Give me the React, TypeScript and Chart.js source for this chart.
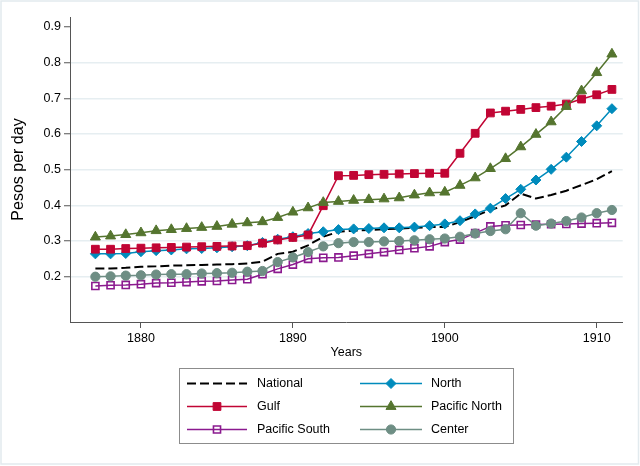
import { useEffect, useRef } from "react";
import { Chart, registerables } from "chart.js";

Chart.register(...registerables);

const years = [
  1877, 1878, 1879, 1880, 1881, 1882, 1883, 1884, 1885, 1886, 1887, 1888,
  1889, 1890, 1891, 1892, 1893, 1894, 1895, 1896, 1897, 1898, 1899, 1900,
  1901, 1902, 1903, 1904, 1905, 1906, 1907, 1908, 1909, 1910, 1911,
];

const national = [
  0.223, 0.223, 0.225, 0.228, 0.229, 0.231, 0.232, 0.233, 0.234, 0.235, 0.237, 0.242,
  0.264, 0.270, 0.288, 0.312, 0.326, 0.329, 0.331, 0.333, 0.335, 0.337, 0.339, 0.339,
  0.353, 0.370, 0.387, 0.400, 0.433, 0.419, 0.429, 0.441, 0.457, 0.473, 0.496,
];
const north = [
  0.264, 0.264, 0.265, 0.270, 0.273, 0.275, 0.278, 0.279, 0.281, 0.284, 0.287, 0.296,
  0.305, 0.312, 0.321, 0.326, 0.332, 0.334, 0.335, 0.337, 0.337, 0.339, 0.343, 0.348,
  0.357, 0.376, 0.392, 0.419, 0.445, 0.471, 0.501, 0.535, 0.579, 0.623, 0.671,
];
const gulf = [
  0.277, 0.277, 0.279, 0.280, 0.281, 0.282, 0.283, 0.284, 0.285, 0.286, 0.287, 0.294,
  0.303, 0.310, 0.317, 0.399, 0.483, 0.484, 0.486, 0.487, 0.488, 0.489, 0.490, 0.490,
  0.546, 0.602, 0.659, 0.664, 0.669, 0.674, 0.678, 0.684, 0.698, 0.710, 0.725,
];
const pacificNorth = [
  0.311, 0.314, 0.318, 0.323, 0.329, 0.332, 0.335, 0.338, 0.341, 0.347, 0.351, 0.354,
  0.366, 0.381, 0.393, 0.408, 0.411, 0.414, 0.416, 0.418, 0.421, 0.429, 0.435, 0.437,
  0.456, 0.477, 0.503, 0.531, 0.564, 0.599, 0.634, 0.677, 0.721, 0.772, 0.824,
];
const pacificSouth = [
  0.174, 0.176, 0.177, 0.179, 0.182, 0.183, 0.185, 0.187, 0.188, 0.191, 0.193, 0.207,
  0.222, 0.234, 0.250, 0.253, 0.254, 0.259, 0.264, 0.269, 0.275, 0.280, 0.285, 0.297,
  0.304, 0.322, 0.341, 0.344, 0.345, 0.346, 0.347, 0.348, 0.349, 0.350, 0.351,
];
const center = [
  0.200, 0.201, 0.203, 0.204, 0.206, 0.207, 0.207, 0.209, 0.210, 0.211, 0.214, 0.216,
  0.241, 0.254, 0.269, 0.285, 0.294, 0.297, 0.297, 0.299, 0.300, 0.302, 0.305, 0.307,
  0.312, 0.321, 0.328, 0.333, 0.378, 0.343, 0.349, 0.356, 0.366, 0.378, 0.387,
];

const xTicks = [1880, 1890, 1900, 1910];
const yTicks = [0.2, 0.3, 0.4, 0.5, 0.6, 0.7, 0.8, 0.9];
const seriesNames = ["National", "North", "Gulf", "Pacific North", "Pacific South", "Center"];
const xTitle = "Years";
const yTitle = "Pesos per day";

const FONT = "'Liberation Sans', Arial, Helvetica, sans-serif";
const AXIS = "#555555";
const GRID = "#e6eef1";

function toPoints(vals: number[]) {
  return years.map((y, i) => ({ x: y, y: vals[i] }));
}

function drawMarker(ctx: CanvasRenderingContext2D, style: string, x: number, y: number, r: number, fill: string, stroke: string, bw: number) {
  ctx.save();
  ctx.beginPath();
  if (style === "rect") {
    const s = Math.SQRT1_2 * r;
    ctx.rect(x - s, y - s, 2 * s, 2 * s);
  } else if (style === "rectRot") {
    ctx.moveTo(x - r, y);
    ctx.lineTo(x, y - r);
    ctx.lineTo(x + r, y);
    ctx.lineTo(x, y + r);
    ctx.closePath();
  } else if (style === "triangle") {
    let a = 0;
    ctx.moveTo(x + Math.sin(a) * r, y - Math.cos(a) * r);
    a += (2 * Math.PI) / 3;
    ctx.lineTo(x + Math.sin(a) * r, y - Math.cos(a) * r);
    a += (2 * Math.PI) / 3;
    ctx.lineTo(x + Math.sin(a) * r, y - Math.cos(a) * r);
    ctx.closePath();
  } else if (style === "circle") {
    ctx.arc(x, y, r, 0, Math.PI * 2);
  }
  ctx.fillStyle = fill;
  ctx.fill();
  if (bw > 0) {
    ctx.lineWidth = bw;
    ctx.strokeStyle = stroke;
    ctx.stroke();
  }
  ctx.restore();
}

const framePlugin = {
  id: "frame",
  beforeDraw(chart: any) {
    const ctx = chart.ctx as CanvasRenderingContext2D;
    ctx.save();
    ctx.fillStyle = "#ffffff";
    ctx.fillRect(0, 0, chart.width, chart.height);
    ctx.strokeStyle = "#e2eaee";
    ctx.lineWidth = 1.5;
    ctx.strokeRect(1, 1, chart.width - 2.5, chart.height - 3);
    ctx.restore();
  },
};

const legendPlugin = {
  id: "customLegend",
  afterDraw(chart: any) {
    const ctx = chart.ctx as CanvasRenderingContext2D;
    const box = { x: 179.5, y: 368.5, w: 334, h: 75 };
    ctx.save();
    ctx.strokeStyle = "#8c8c8c";
    ctx.lineWidth = 1;
    ctx.strokeRect(box.x, box.y, box.w, box.h);
    const rows = [383.5, 406.5, 429.5];
    const cols = [
      { x0: 187, x1: 247, tx: 257 },
      { x0: 360, x1: 422, tx: 431 },
    ];
    chart.data.datasets.forEach((ds: any, i: number) => {
      const c = cols[i % 2];
      const y = rows[Math.floor(i / 2)];
      ctx.save();
      ctx.beginPath();
      ctx.strokeStyle = ds.borderColor;
      ctx.lineWidth = ds.borderWidth;
      ctx.setLineDash(ds.borderDash || []);
      ctx.moveTo(c.x0, y);
      ctx.lineTo(c.x1, y);
      ctx.stroke();
      ctx.restore();
      if (ds.pointRadius > 0) {
        drawMarker(ctx, ds.pointStyle, (c.x0 + c.x1) / 2, y, ds.pointRadius, ds.pointBackgroundColor, ds.pointBorderColor, ds.pointBorderWidth);
      }
      ctx.fillStyle = "#000000";
      ctx.font = `12.5px ${FONT}`;
      ctx.textBaseline = "middle";
      ctx.textAlign = "left";
      ctx.fillText(ds.label, c.tx, y + 0.5);
    });
    ctx.restore();
  },
};

export default function App() {
  const ref = useRef<HTMLCanvasElement | null>(null);

  useEffect(() => {
    document.body.style.margin = "0";
    if (!ref.current) return;
    const mk = (label: string, vals: number[], color: string, style: string | false, r: number, order: number, extra: any = {}) => ({
      label,
      data: toPoints(vals),
      borderColor: color,
      backgroundColor: color,
      borderWidth: 1.5,
      pointStyle: style,
      pointRadius: r,
      pointHoverRadius: r,
      pointBackgroundColor: color,
      pointBorderColor: color,
      pointBorderWidth: 1,
      tension: 0,
      order,
      ...extra,
    });

    const chart = new Chart(ref.current, {
      type: "line",
      data: {
        datasets: [
          mk(seriesNames[0], national, "#000000", false, 0, 6, { borderWidth: 2, borderDash: [9, 4] }),
          mk(seriesNames[1], north, "#008bbc", "rectRot", 5, 5),
          mk(seriesNames[2], gulf, "#c10534", "rect", 5.5, 4),
          mk(seriesNames[3], pacificNorth, "#55752f", "triangle", 5.8, 3),
          mk(seriesNames[4], pacificSouth, "#8b1a8f", "rect", 5, 2, { pointBackgroundColor: "rgba(0,0,0,0)", pointBorderWidth: 1.6 }),
          mk(seriesNames[5], center, "#6e8e84", "circle", 4.6, 1),
        ],
      },
      options: {
        animation: false,
        responsive: false,
        devicePixelRatio: 1,
        layout: { padding: { left: 0, top: 17, right: 17.3, bottom: 100 } },
        plugins: {
          legend: { display: false },
          tooltip: { enabled: false },
        },
        scales: {
          x: {
            type: "linear",
            position: "bottom",
            min: 1875.33,
            max: 1911.71,
            afterBuildTicks: (s: any) => {
              s.ticks = xTicks.map((v) => ({ value: v }));
            },
            afterFit: (s: any) => {
              s.height = 44;
            },
            ticks: {
              color: "#000000",
              font: { family: FONT, size: 12.5 },
              padding: 3,
              maxRotation: 0,
              autoSkip: false,
              callback: (v: any) => String(v),
            },
            grid: { drawOnChartArea: false, drawTicks: true, tickLength: 6, tickColor: AXIS, tickWidth: 1 },
            border: { color: AXIS, width: 1 },
            title: {
              display: true,
              text: xTitle,
              color: "#000000",
              font: { family: FONT, size: 12.5 },
              padding: { top: 0, bottom: 6 },
            },
          },
          y: {
            type: "linear",
            position: "left",
            min: 0.073,
            max: 0.928,
            afterBuildTicks: (s: any) => {
              s.ticks = yTicks.map((v) => ({ value: v }));
            },
            afterFit: (s: any) => {
              s.width = 70;
            },
            ticks: {
              color: "#000000",
              font: { family: FONT, size: 12.5 },
              padding: 3,
              autoSkip: false,
              callback: (v: any) => Number(v).toFixed(1),
            },
            grid: {
              drawOnChartArea: true,
              drawTicks: true,
              tickLength: 6,
              tickColor: AXIS,
              tickWidth: 1,
              lineWidth: 1.5,
              color: (c: any) => (c.tick && c.tick.value >= 0.85 ? "rgba(0,0,0,0)" : GRID),
            },
            border: { color: AXIS, width: 1 },
            title: {
              display: true,
              text: yTitle,
              color: "#000000",
              font: { family: FONT, size: 16 },
              padding: { top: 9, bottom: 0 },
            },
          },
        },
      } as any,
      plugins: [framePlugin, legendPlugin],
    });
    return () => chart.destroy();
  }, []);

  return (
    <div style={{ position: "absolute", left: 0, top: 0, width: 640, height: 466 }}>
      <canvas ref={ref} width={640} height={466} style={{ width: 640, height: 466, display: "block" }} />
    </div>
  );
}
